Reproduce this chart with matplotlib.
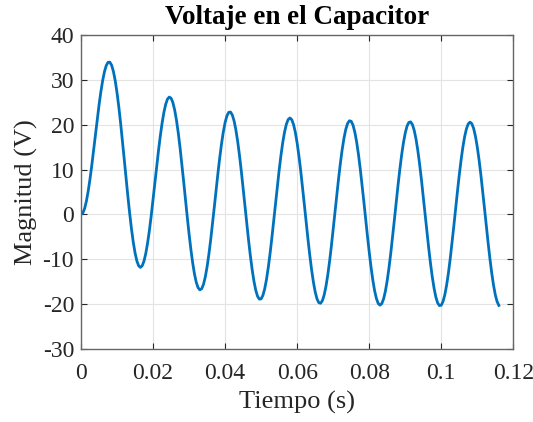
import matplotlib
matplotlib.use("Agg")
import matplotlib.pyplot as plt
import numpy as np

# Voltaje en el capacitor, cada 0.5 ms (0 a 116 ms)
voltaje = [
    0.00, 0.31, 1.32, 2.98, 5.23, 7.94, 11.02, 14.33, 17.76, 21.15,
    24.37, 27.30, 29.81, 31.80, 33.19, 33.92, 33.95, 33.26, 31.86, 29.79,
    27.11, 23.92, 20.30, 16.39, 12.29, 8.15, 4.11, 0.30, -3.16, -6.15,
    -8.57, -10.36, -11.45, -11.81, -11.43, -10.36, -8.62, -6.28, -3.45, -0.20,
    3.31, 6.97, 10.63, 14.16, 17.43, 20.32, 22.72, 24.54, 25.71, 26.17,
    25.92, 24.95, 23.29, 21.00, 18.15, 14.84, 11.17, 7.29, 3.31, -0.62,
    -4.36, -7.80, -10.81, -13.29, -15.15, -16.34, -16.82, -16.56, -15.59, -13.94,
    -11.67, -8.87, -5.64, -2.10, 1.63, 5.41, 9.11, 12.58, 15.71, 18.38,
    20.49, 21.97, 22.76, 22.83, 22.18, 20.83, 18.82, 16.22, 13.13, 9.64,
    5.89, 2.00, -1.89, -5.65, -9.14, -12.25, -14.85, -16.87, -18.23, -18.88,
    -18.82, -18.03, -16.55, -14.44, -11.74, -8.60, -5.09, -1.36, 2.46, 6.24,
    9.84, 13.14, 16.02, 18.36, 20.09, 21.15, 21.51, 21.13, 20.05, 18.29,
    15.90, 13.00, 9.65, 6.01, 2.18, -1.70, -5.49, -9.05, -12.27, -15.03,
    -17.23, -18.80, -19.66, -19.81, -19.24, -17.96, -16.03, -13.51, -10.48, -7.05,
    -3.37, 0.46, 4.28, 7.98, 11.41, 14.46, 17.00, 18.97, 20.28, 20.88,
    20.77, 19.93, 18.40, 16.24, 13.50, 10.31, 6.76, 2.99, -0.88, -4.70,
    -8.34, -11.68, -14.60, -16.97, -18.74, -19.84, -20.23, -19.88, -18.83, -17.10,
    -14.74, -11.87, -8.56, -4.94, -1.14, 2.72, 6.48, 10.02, 13.21, 15.95,
    18.12, 19.67, 20.51, 20.64, 20.04, 18.75, 16.79, 14.25, 11.21, 7.76,
    4.06, 0.21, -3.63, -7.34, -10.79, -13.85, -16.41, -18.40, -19.72, -20.33,
    -20.24, -19.41, -17.89, -15.74, -13.02, -9.84, -6.30, -2.55, 1.31, 5.12,
    8.75, 12.08, 14.98, 17.35, 19.11, 20.20, 20.58, 20.22, 19.16, 17.42,
    15.06, 12.18, 8.85, 5.23, 1.42, -2.44, -6.21, -9.75, -12.95, -15.70,
    -17.88, -19.43, -20.28,
]
paso = 0.0005  # s
t = np.arange(len(voltaje)) * paso

xticks = [0, 0.02, 0.04, 0.06, 0.08, 0.1, 0.12]
xlabels = ["0", "0.02", "0.04", "0.06", "0.08", "0.1", "0.12"]
yticks = [-30, -20, -10, 0, 10, 20, 30, 40]

plt.rcParams['font.family'] = ['Liberation Serif', 'DejaVu Serif']
plt.rcParams['axes.unicode_minus'] = False

fig = plt.figure(figsize=(5.33, 4.22), dpi=100)
ax = fig.add_axes([0.152, 0.173, 0.811, 0.744])

ax.plot(t, voltaje, color="#0072BD", linewidth=2.0)

ax.set_xlim(0, 0.12)
ax.set_ylim(-30, 40)
ax.set_xticks(xticks)
ax.set_xticklabels(xlabels)
ax.set_yticks(yticks)

ax.grid(True, color="#e3e3e3", linewidth=0.8)
ax.set_axisbelow(True)
ax.tick_params(direction="in", top=True, right=True, length=4,
               labelsize=17, colors="#262626", width=0.8)
ax.tick_params(axis="x", pad=10)
ax.tick_params(axis="y", pad=5)
for s in ax.spines.values():
    s.set_color("#666666")
    s.set_linewidth(1.0)

ax.set_xlabel("Tiempo (s)", fontsize=19, color="#262626", labelpad=5)
ax.set_ylabel("Magnitud (V)", fontsize=19, color="#262626", labelpad=3)
ax.set_title("Voltaje en el Capacitor", fontsize=19.5, fontweight="bold", pad=8)

fig.savefig("out.png", dpi=100)
